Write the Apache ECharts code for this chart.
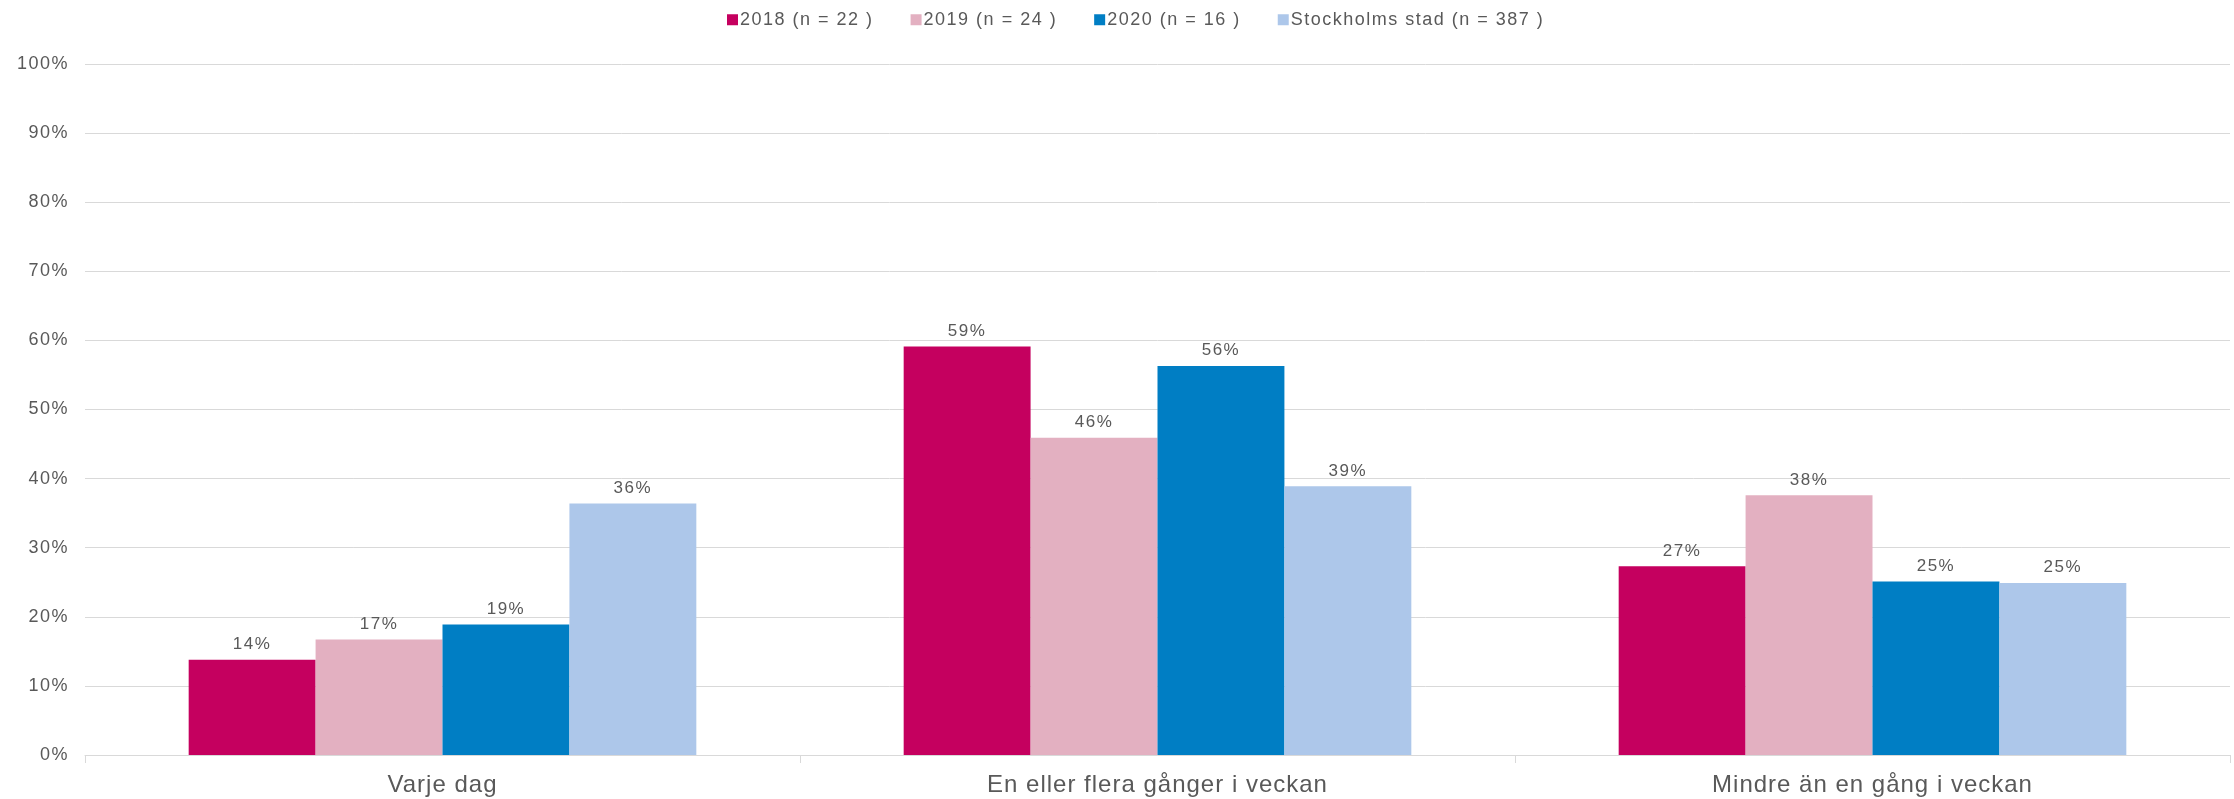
<!DOCTYPE html>
<html><head><meta charset="utf-8">
<script src="https://cdn.jsdelivr.net/npm/echarts@6/dist/echarts.min.js"></script>
<style>html,body{margin:0;padding:0;background:#fff}#c{width:2234px;height:799px}</style>
</head><body><div id="c"></div>
<script>
const categories = ['Varje dag', 'En eller flera gånger i veckan', 'Mindre än en gång i veckan'];
const seriesNames = ['2018 (n = 22 )', '2019 (n = 24 )', '2020 (n = 16 )', 'Stockholms stad (n = 387 )'];
const s2018 = [13.8, 59.1, 27.3];
const s2019 = [16.7, 45.9, 37.6];
const s2020 = [18.9, 56.3, 25.1];
const sSthlm = [36.4, 38.9, 24.9];
const yTicks = [0, 10, 20, 30, 40, 50, 60, 70, 80, 90, 100];
const colors = ['#C5005F', '#E3B0C1', '#007EC4', '#ADC7EA'];

// letter spacing by font size (canvas letterSpacing, applied to drawing and measuring)
const spacingBySize = {24: '1px', 18: '1.5px', 17: '1.5px'};
(function(){
  const P = CanvasRenderingContext2D.prototype;
  if (!('letterSpacing' in P)) return;
  const pick = ctx => { const m = /(\d+(?:\.\d+)?)px/.exec(ctx.font || ''); return (m && spacingBySize[Math.round(+m[1])]) || '0px'; };
  const f = P.fillText, s = P.strokeText, mt = P.measureText;
  P.fillText = function(){ this.letterSpacing = pick(this); return f.apply(this, arguments); };
  P.strokeText = function(){ this.letterSpacing = pick(this); return s.apply(this, arguments); };
  P.measureText = function(){ this.letterSpacing = pick(this); return mt.apply(this, arguments); };
})();

const font = 'Liberation Sans, Arial, sans-serif';
const txt = '#595959';
const allData = [s2018, s2019, s2020, sSthlm];
const chart = echarts.init(document.getElementById('c'), null, {renderer: 'canvas'});
chart.setOption({
  animation: false,
  color: colors,
  legend: {
    top: 5, left: 722,
    itemWidth: 11, itemHeight: 11, itemGap: 37, icon: 'rect',
    textStyle: {color: txt, fontSize: 18, fontFamily: font, padding: [0,0,0,-3]},
    data: seriesNames
  },
  grid: {left: 85, right: 4, top: 64, bottom: 44, containLabel: false},
  xAxis: {
    type: 'category', data: categories,
    axisLine: {lineStyle: {color: '#d9d9d9', width: 1}},
    axisTick: {show: true, length: 8, lineStyle: {color: '#d9d9d9'}},
    axisLabel: {color: txt, fontSize: 24, fontFamily: font, margin: 18}
  },
  yAxis: {
    type: 'value', min: yTicks[0], max: yTicks[yTicks.length-1], interval: 10,
    axisLine: {show: false}, axisTick: {show: false},
    splitLine: {lineStyle: {color: '#d9d9d9', width: 1}},
    axisLabel: {color: txt, fontSize: 18, fontFamily: font, margin: 16,
      formatter: v => v + '%'}
  },
  series: seriesNames.map((n, i) => ({
    name: n, type: 'bar', data: allData[i],
    barGap: '0%', barCategoryGap: '29%',
    label: {show: true, position: 'top', distance: 6, color: txt, fontSize: 17, fontFamily: font,
      formatter: p => Math.round(p.value) + '%'}
  }))
});
</script></body></html>
